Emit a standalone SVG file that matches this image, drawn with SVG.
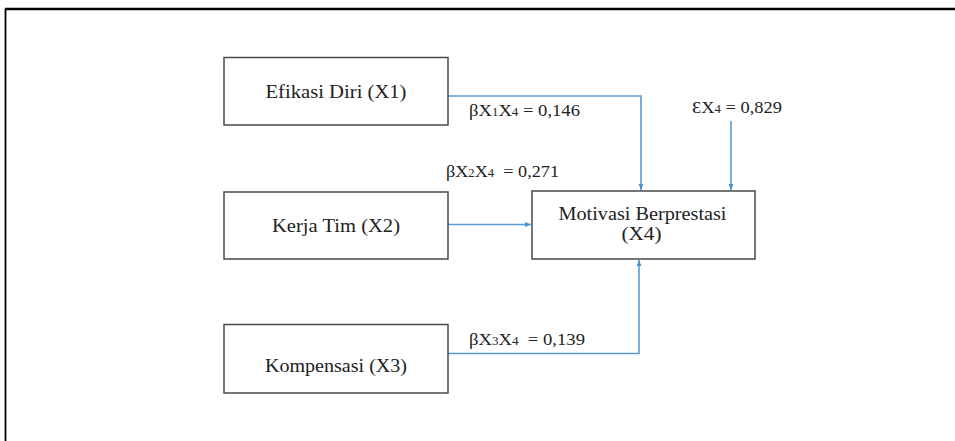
<svg xmlns="http://www.w3.org/2000/svg" width="955" height="441" viewBox="0 0 955 441">
<style>
.box{fill:#fff;stroke:#4a4a4a;stroke-width:1.5}
.t{font-family:"Liberation Serif","Times New Roman",serif;font-size:19.5px;fill:#222;text-anchor:middle}
.l{font-family:"Liberation Serif","Times New Roman",serif;font-size:16.5px;fill:#222}
.sub{font-size:11.5px}
.c{fill:none;stroke:#5b9bd5;stroke-width:1.6}
</style>
<defs>
<marker id="ah" viewBox="0 0 10 10" refX="10" refY="5" markerWidth="6" markerHeight="6" markerUnits="userSpaceOnUse" orient="auto">
<path d="M0,1 L10,5 L0,9 z" fill="#4a8fd0"/>
</marker>
</defs>
<rect width="955" height="441" fill="#fff"/>
<g id="frame">
<line x1="5" y1="9" x2="955" y2="9" stroke="#000" stroke-width="2.5"/>
<line x1="5.5" y1="9" x2="5.5" y2="441" stroke="#000" stroke-width="1.8"/>
</g>
<g id="connectors">
<polyline class="c" points="448,96 641,96 641,190" marker-end="url(#ah)"/>
<line class="c" x1="731" y1="121" x2="731" y2="190" marker-end="url(#ah)"/>
<line class="c" x1="448" y1="224.5" x2="531" y2="224.5" marker-end="url(#ah)"/>
<polyline class="c" points="448,353.5 639,353.5 639,260" marker-end="url(#ah)"/>
</g>
<g id="x1">
<rect class="box" x="224" y="57.5" width="224" height="67.5"/>
<text class="t" x="336" y="98" textLength="141" lengthAdjust="spacingAndGlyphs">Efikasi Diri (X1)</text>
</g>
<g id="x2">
<rect class="box" x="224" y="192" width="224" height="67"/>
<text class="t" x="336" y="232" textLength="128" lengthAdjust="spacingAndGlyphs">Kerja Tim (X2)</text>
</g>
<g id="x3">
<rect class="box" x="224" y="324.5" width="224" height="68.5"/>
<text class="t" x="336" y="372" textLength="142" lengthAdjust="spacingAndGlyphs">Kompensasi (X3)</text>
</g>
<g id="x4">
<rect class="box" x="532" y="191" width="223" height="68"/>
<text class="t" x="642.5" y="219.5" textLength="168" lengthAdjust="spacingAndGlyphs">Motivasi Berprestasi</text>
<text class="t" x="641.5" y="239.5" textLength="40" lengthAdjust="spacingAndGlyphs">(X4)</text>
</g>
<g id="labels">
<text class="l" x="469" y="116" textLength="111" lengthAdjust="spacingAndGlyphs">βX<tspan class="sub">1</tspan>X<tspan class="sub">4</tspan> = 0,146</text>
<text class="l" x="692" y="113" textLength="90" lengthAdjust="spacingAndGlyphs">ƐX<tspan class="sub">4</tspan> = 0,829</text>
<text class="l" x="446" y="177" textLength="113" lengthAdjust="spacingAndGlyphs" xml:space="preserve">βX<tspan class="sub">2</tspan>X<tspan class="sub">4</tspan>  = 0,271</text>
<text class="l" x="469" y="345" textLength="116" lengthAdjust="spacingAndGlyphs" xml:space="preserve">βX<tspan class="sub">3</tspan>X<tspan class="sub">4</tspan>  = 0,139</text>
</g>
</svg>
